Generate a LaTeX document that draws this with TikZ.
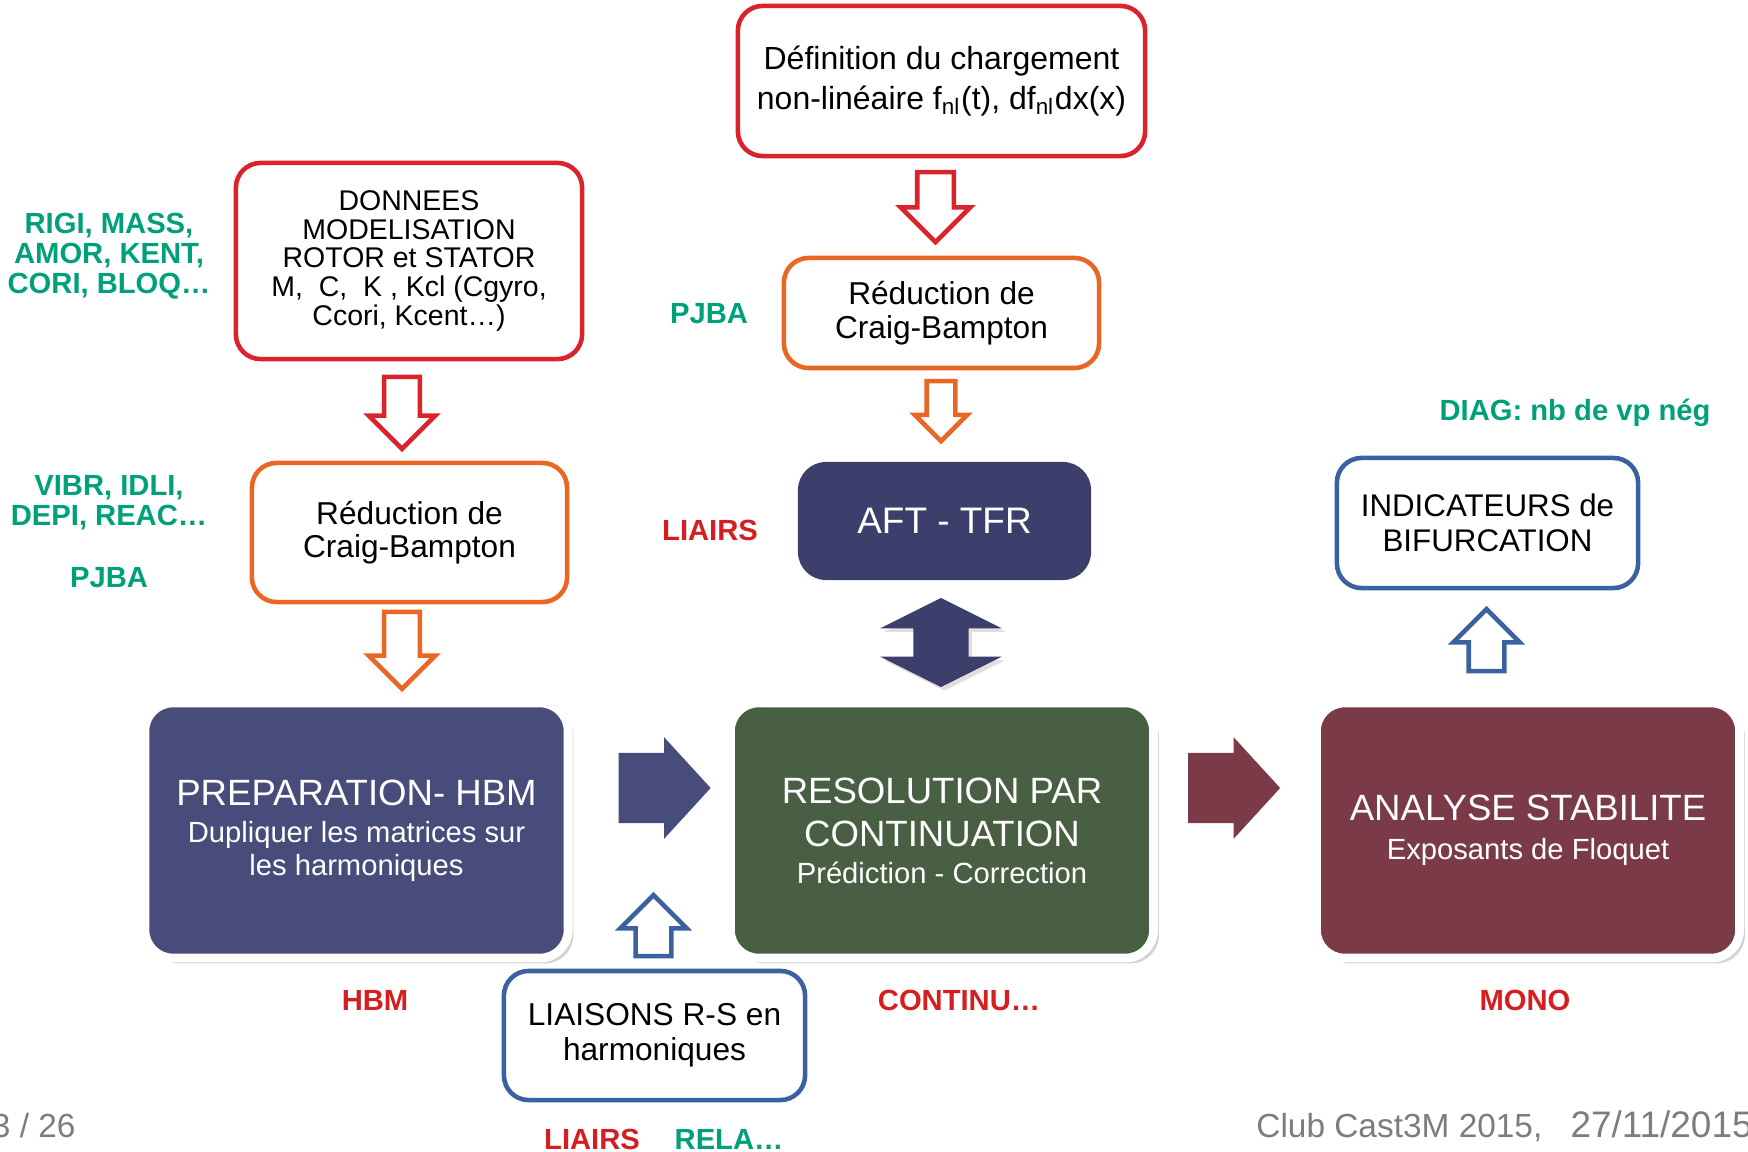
\documentclass[tikz,border=0pt]{standalone}
\usepackage{fontspec}
\setmainfont{Liberation Sans}
\usetikzlibrary{shapes.arrows,shadows}

\definecolor{boxred}{RGB}{219,35,44}
\definecolor{boxorange}{RGB}{234,102,36}
\definecolor{boxblue}{RGB}{58,98,158}
\definecolor{hbmblue}{RGB}{72,76,122}
\definecolor{contgreen}{RGB}{72,95,67}
\definecolor{stabred}{RGB}{122,58,72}
\definecolor{aftblue}{RGB}{60,62,108}
\definecolor{castgreen}{RGB}{0,160,122}
\definecolor{castred}{RGB}{212,30,32}
\definecolor{footgray}{RGB}{125,125,125}

\newcommand{\titlesize}{\fontsize{10.4}{12.3}\selectfont}

\begin{document}
\begin{tikzpicture}[x=0.01cm,y=-0.01cm]
        \tikzstyle{inbox} = [draw,fill=white,line width=1.3pt,rounded corners=7pt,align=center,inner sep=0pt]
        \tikzstyle{bigbox} = [draw=white,line width=2.5pt,rounded corners=8pt,align=center,text=white,inner sep=0pt,
                              minimum width=4.23cm,minimum height=2.55cm,font=\fontsize{8.3}{9.2}\selectfont,
                              drop shadow={opacity=0.35,shadow xshift=1.5pt,shadow yshift=-1.5pt}]
        \tikzstyle{hollowarrow} = [single arrow,draw,fill=white,line width=1.3pt,inner sep=0.155cm,
                                   single arrow head indent=0pt,single arrow tip angle=90,single arrow head extend=0.155cm]
        \tikzstyle{blockarrow} = [single arrow,inner xsep=0pt,inner ysep=0.345cm,single arrow head indent=0pt,
                                  single arrow tip angle=95,minimum height=0.92cm,
                                  single arrow head extend=0.155cm]
        \tikzstyle{cmdgreen} = [text=castgreen,align=center,font=\bfseries\fontsize{8.3}{8.6}\selectfont]
        \tikzstyle{cmdred} = [text=castred,align=center,font=\bfseries\fontsize{8.3}{8.6}\selectfont]
        \tikzstyle{foot} = [text=footgray,font=\fontsize{9.5}{11}\selectfont]

        \useasboundingbox (0,0) rectangle (1748,1152);

        % boites du haut
        \node[inbox,draw=boxred,minimum width=4.07cm,minimum height=1.5cm,
              font=\fontsize{9.1}{11.4}\selectfont] (charg) at (941.5,81)
              {Définition du chargement\\non-linéaire f\textsubscript{nl}(t), df\textsubscript{nl}dx(x)};
        \node[inbox,draw=boxred,minimum width=3.46cm,minimum height=1.96cm,
              font=\fontsize{8.1}{8.2}\selectfont] (donnees) at (409,261)
              {DONNEES\\MODELISATION\\ROTOR et STATOR\\M,\ \ C,\ \ K , Kcl (Cgyro,\\Ccori, Kcent…)};
        \node[inbox,draw=boxorange,minimum width=3.15cm,minimum height=1.39cm,
              font=\fontsize{9}{9.3}\selectfont] (redG) at (409.5,532.5) {Réduction de\\Craig-Bampton};
        \node[inbox,draw=boxorange,minimum width=3.15cm,minimum height=1.1cm,
              font=\fontsize{9}{9.8}\selectfont] (redD) at (941.5,313) {Réduction de\\Craig-Bampton};
        \node[fill=aftblue,rounded corners=8pt,minimum width=2.93cm,minimum height=1.18cm,text=white,
              font=\fontsize{10.5}{12}\selectfont] (aft) at (944.5,521) {AFT - TFR};
        \node[inbox,draw=boxblue,minimum width=3.01cm,minimum height=1.3cm,
              font=\fontsize{8.9}{9.8}\selectfont] (indic) at (1487.5,523) {INDICATEURS de\\BIFURCATION};
        \node[inbox,draw=boxblue,minimum width=3.01cm,minimum height=1.29cm,
              font=\fontsize{9}{10}\selectfont] (liais) at (654.5,1035.5) {LIAISONS R-S en\\harmoniques};

        % les trois etapes
        \node[bigbox,fill=hbmblue] (hbm) at (356.5,830.5)
              {{\titlesize PREPARATION- HBM}\\[1.5pt] Dupliquer les matrices sur\\les harmoniques};
        \node[bigbox,fill=contgreen] (cont) at (942,830.5)
              {{\titlesize RESOLUTION PAR}\\[3.1pt]{\titlesize CONTINUATION}\\[1.2pt] Prédiction - Correction};
        \node[bigbox,fill=stabred] (stab) at (1528,830.5)
              {{\titlesize ANALYSE STABILITE}\\[1.9pt] Exposants de Floquet};

        % fleches creuses
        \node[hollowarrow,draw=boxred,shape border rotate=270,minimum height=0.72cm] (fdonnees) at (402,404) {};
        \node[hollowarrow,draw=boxred,shape border rotate=270,minimum height=0.7cm,inner sep=0.16cm,
              single arrow head extend=0.165cm] (fcharg) at (935.5,198) {};
        \node[hollowarrow,draw=boxorange,shape border rotate=270,minimum height=0.77cm] (fredG) at (402,641.5) {};
        \node[hollowarrow,draw=boxorange,shape border rotate=270,minimum height=0.6cm,inner sep=0.12cm,
              single arrow head extend=0.12cm] (fredD) at (941,404) {};
        \node[hollowarrow,draw=boxblue,shape border rotate=90,minimum height=0.61cm] (fliais) at (653.5,934.5) {};
        \node[hollowarrow,draw=boxblue,shape border rotate=90,minimum height=0.62cm] (findic) at (1486.5,649) {};

        % fleches pleines
        \node[blockarrow,fill=hbmblue] (fhbm) at (648.5,788) {};
        \node[blockarrow,fill=stabred] (fcont) at (1218,788) {};
        \node[double arrow,fill=aftblue,inner sep=0.27cm,shape border rotate=90,
              minimum height=0.89cm,double arrow head extend=0.33cm,double arrow tip angle=127,
              double arrow head indent=0pt,drop shadow={opacity=0.25,shadow xshift=1pt,shadow yshift=-1pt}]
              (faft) at (941,642.5) {};

        % commandes Cast3M
        \node[cmdgreen] (cmdrigi) at (109,256) {RIGI, MASS,\\AMOR, KENT,\\CORI, BLOQ…};
        \node[cmdgreen] (cmdvibr) at (109,502.5) {VIBR, IDLI,\\DEPI, REAC…};
        \node[cmdgreen] (cmdpjbaG) at (109,578) {PJBA};
        \node[cmdgreen] (cmdpjbaD) at (709,314) {PJBA};
        \node[cmdred] (cmdliairsA) at (710,530) {LIAIRS};
        \node[cmdgreen] (cmddiag) at (1575,413) {DIAG: nb de vp nég};
        \node[cmdred] (cmdhbm) at (375,1000) {HBM};
        \node[cmdred] (cmdcont) at (959,1000) {CONTINU…};
        \node[cmdred] (cmdmono) at (1525,1000) {MONO};
        \node[cmdred] (cmdliairsB) at (592,1139) {LIAIRS};
        \node[cmdgreen] (cmdrela) at (729,1139) {RELA…};

        % pied de page
        \node[foot,anchor=east] (page) at (88,1126) {3 / 26};
        \node[foot,anchor=west] (club) at (1244,1126)
              {Club Cast3M 2015,\hspace{8pt}{\fontsize{10.5}{11}\selectfont 27/11/2015}};
\end{tikzpicture}
\end{document}
